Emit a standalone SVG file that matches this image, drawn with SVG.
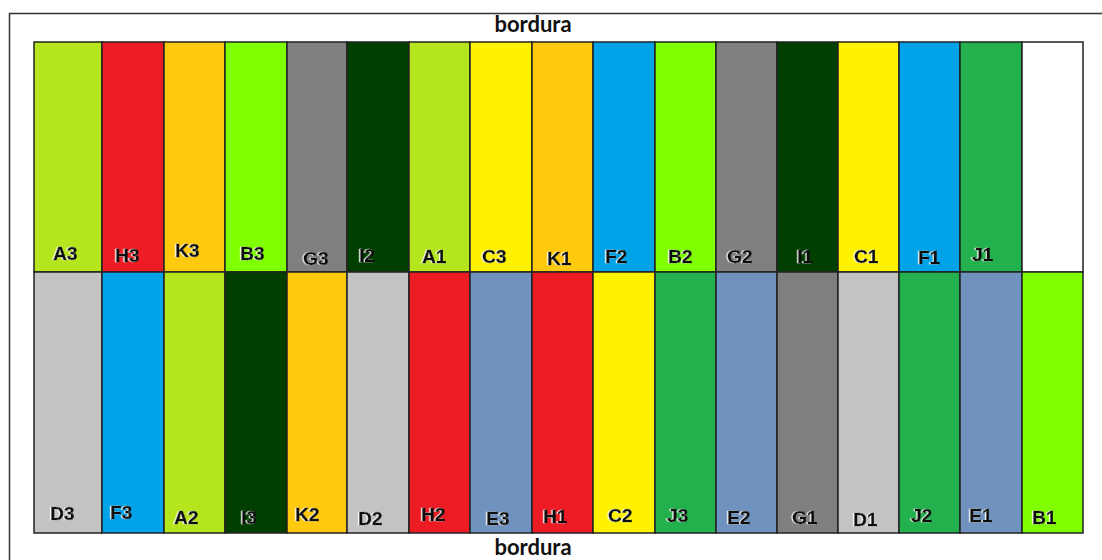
<svg xmlns="http://www.w3.org/2000/svg" width="1102" height="560" viewBox="0 0 1102 560">
<defs>
<filter id="sh" x="-20%" y="-20%" width="140%" height="140%">
<feDropShadow dx="-1.2" dy="0" stdDeviation="0.3" flood-color="#ffffff" flood-opacity="0.9"/>
</filter>
</defs>
<style>
.c{stroke:#222;stroke-width:1.5}
.t{font-family:"Liberation Sans",Arial,sans-serif;font-weight:bold;font-size:19px;fill:#111;stroke:#111;stroke-width:0.4;filter:url(#sh)}
.b{font-family:"Lato","Liberation Sans",sans-serif;font-weight:bold;font-size:22px;fill:#111;text-anchor:middle}
.lime{fill:#B5E61D}.red{fill:#ED1C24}.org{fill:#FFC90E}.chr{fill:#80FF00}.gry{fill:#7F7F7F}.dkg{fill:#003F00}.yel{fill:#FFF200}.blu{fill:#00A2E8}.grn{fill:#22B14C}.lgr{fill:#C3C3C3}.stb{fill:#7092BE}.wht{fill:#FFFFFF}
</style>
<rect x="9.5" y="13.5" width="1100" height="560" fill="#fff" stroke="#333" stroke-width="1.5"/>
<text class="b" x="533" y="32">bordura</text>
<text class="b" x="533" y="555">bordura</text>
<g id="top-row">
<g id="A3"><rect class="c lime" x="34" y="42" width="68" height="230"/><text class="t" x="53" y="260">A3</text></g>
<g id="H3"><rect class="c red" x="102" y="42" width="62" height="230"/><text class="t" x="115" y="262">H3</text></g>
<g id="K3"><rect class="c org" x="164" y="42" width="61" height="230"/><text class="t" x="175" y="257">K3</text></g>
<g id="B3"><rect class="c chr" x="225" y="42" width="62" height="230"/><text class="t" x="240" y="260">B3</text></g>
<g id="G3"><rect class="c gry" x="287" y="42" width="60" height="230"/><text class="t" x="303" y="265">G3</text></g>
<g id="I2"><rect class="c dkg" x="347" y="42" width="62" height="230"/><text class="t" x="359" y="262">I2</text></g>
<g id="A1"><rect class="c lime" x="409" y="42" width="61" height="230"/><text class="t" x="422" y="263">A1</text></g>
<g id="C3"><rect class="c yel" x="470" y="42" width="62" height="230"/><text class="t" x="482" y="263">C3</text></g>
<g id="K1"><rect class="c org" x="532" y="42" width="61" height="230"/><text class="t" x="547" y="265">K1</text></g>
<g id="F2"><rect class="c blu" x="593" y="42" width="62" height="230"/><text class="t" x="605" y="263">F2</text></g>
<g id="B2"><rect class="c chr" x="655" y="42" width="61" height="230"/><text class="t" x="668" y="263">B2</text></g>
<g id="G2"><rect class="c gry" x="716" y="42" width="61" height="230"/><text class="t" x="727" y="263">G2</text></g>
<g id="I1"><rect class="c dkg" x="777" y="42" width="61" height="230"/><text class="t" x="797" y="263">I1</text></g>
<g id="C1"><rect class="c yel" x="838" y="42" width="61" height="230"/><text class="t" x="854" y="263">C1</text></g>
<g id="F1"><rect class="c blu" x="899" y="42" width="61" height="230"/><text class="t" x="918" y="264">F1</text></g>
<g id="J1"><rect class="c grn" x="960" y="42" width="62" height="230"/><text class="t" x="972" y="261">J1</text></g>
<g id="empty"><rect class="c wht" x="1022" y="42" width="61" height="230"/></g>
</g>
<g id="bottom-row">
<g id="D3"><rect class="c lgr" x="34" y="272" width="68" height="261"/><text class="t" x="50" y="520">D3</text></g>
<g id="F3"><rect class="c blu" x="102" y="272" width="62" height="261"/><text class="t" x="110" y="519">F3</text></g>
<g id="A2"><rect class="c lime" x="164" y="272" width="61" height="261"/><text class="t" x="174" y="524">A2</text></g>
<g id="I3"><rect class="c dkg" x="225" y="272" width="62" height="261"/><text class="t" x="241" y="524">I3</text></g>
<g id="K2"><rect class="c org" x="287" y="272" width="60" height="261"/><text class="t" x="295" y="521">K2</text></g>
<g id="D2"><rect class="c lgr" x="347" y="272" width="62" height="261"/><text class="t" x="358" y="525">D2</text></g>
<g id="H2"><rect class="c red" x="409" y="272" width="61" height="261"/><text class="t" x="421" y="521">H2</text></g>
<g id="E3"><rect class="c stb" x="470" y="272" width="62" height="261"/><text class="t" x="486" y="525">E3</text></g>
<g id="H1"><rect class="c red" x="532" y="272" width="61" height="261"/><text class="t" x="543" y="523">H1</text></g>
<g id="C2"><rect class="c yel" x="593" y="272" width="62" height="261"/><text class="t" x="608" y="522">C2</text></g>
<g id="J3"><rect class="c grn" x="655" y="272" width="61" height="261"/><text class="t" x="667" y="522">J3</text></g>
<g id="E2"><rect class="c stb" x="716" y="272" width="61" height="261"/><text class="t" x="727" y="524">E2</text></g>
<g id="G1"><rect class="c gry" x="777" y="272" width="61" height="261"/><text class="t" x="792" y="524">G1</text></g>
<g id="D1"><rect class="c lgr" x="838" y="272" width="61" height="261"/><text class="t" x="853" y="526">D1</text></g>
<g id="J2"><rect class="c grn" x="899" y="272" width="61" height="261"/><text class="t" x="911" y="522">J2</text></g>
<g id="E1"><rect class="c stb" x="960" y="272" width="62" height="261"/><text class="t" x="969" y="522">E1</text></g>
<g id="B1"><rect class="c chr" x="1022" y="272" width="61" height="261"/><text class="t" x="1032" y="524">B1</text></g>
</g>
</svg>
